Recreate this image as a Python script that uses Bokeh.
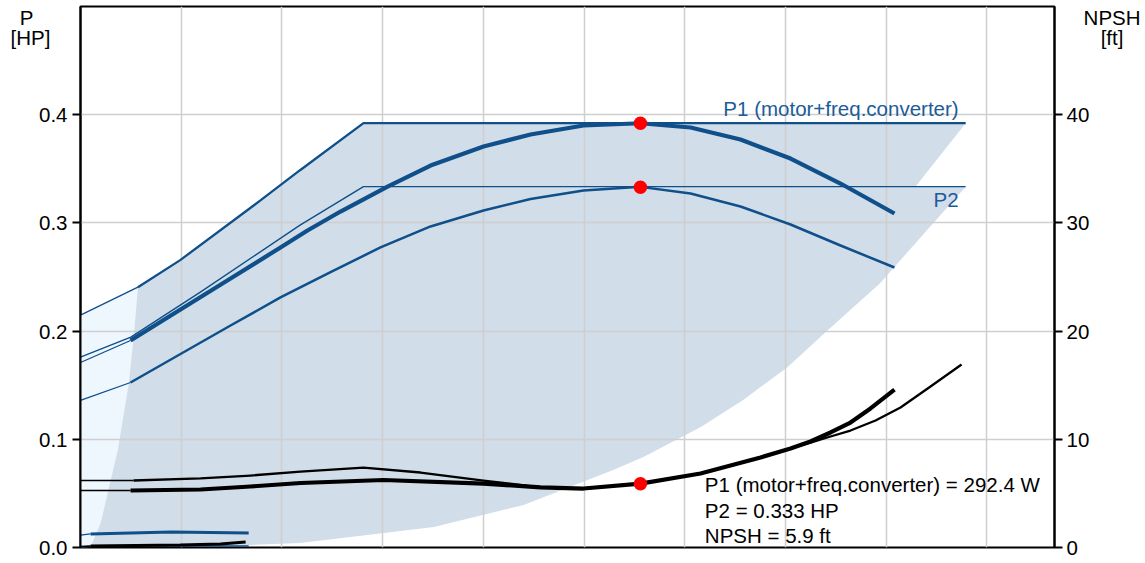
from bokeh.plotting import figure
from bokeh.models import (Range1d, LinearAxis, FixedTicker, Label, NumeralTickFormatter,
                          AllLabels)
from bokeh.embed import file_html
from bokeh.resources import INLINE

# ---------------- data ----------------
# flow axis has no labels in the reference: flow is expressed in grid units
flow_grid = [1, 2, 3, 4, 5, 6, 7, 8, 9]
p_ticks = [0.0, 0.1, 0.2, 0.3, 0.4]
p_grid = [0.1, 0.2, 0.3, 0.4]
npsh_ticks = [0, 10, 20, 30, 40]
p_title = ["P", "[HP]"]
npsh_title = ["NPSH", "[ft]"]

# light area (below minimum flow)
lowflow_q = [0, 0, 0.57, 0.53, 0.48, 0.37, 0.20, 0.10]
lowflow_p = [0, 0.2148, 0.2406, 0.1963, 0.152, 0.0901, 0.0226, 0.0005]

# operating range (union of P1 and P2 ranges)
range_q = [0.57, 0.99, 1.79, 2.18, 2.81, 8.79, 8.29, 8.79, 8.61, 8.08, 7.94, 7.42, 7.02,
           6.58, 6.16, 5.59, 5.29, 4.40, 3.51, 2.18, 1.69, 0.10, 0.20, 0.37, 0.48, 0.53]
range_p = [0.2406, 0.2656, 0.321, 0.3487, 0.3922, 0.3922, 0.3335, 0.3335, 0.3146, 0.2591,
           0.2443, 0.2009, 0.1667, 0.1363, 0.1113, 0.0836, 0.0716, 0.0393, 0.0189, 0.0042,
           0.0023, 0.0005, 0.0226, 0.0901, 0.152, 0.1963]

# P1 max envelope
p1max_q = [0, 0.57, 0.99, 1.79, 2.18, 2.81, 8.79]
p1max_p = [0.2148, 0.2406, 0.2656, 0.321, 0.3487, 0.3922, 0.3922]
# P2 max envelope
p2max_q = [0, 0.50, 1.19, 2.18, 2.81, 8.79]
p2max_p = [0.176, 0.1945, 0.236, 0.2979, 0.3335, 0.3335]

# P1 at nominal speed
p1_q = [0, 0.497, 0.993, 1.490, 1.986, 2.254, 2.582, 3.049, 3.476, 4.002, 4.469, 4.995,
        5.561, 6.058, 6.554, 7.051, 7.547, 8.083]
p1_p = [0.1710, 0.1913, 0.2200, 0.2486, 0.2773, 0.2930, 0.3105, 0.3336, 0.3530, 0.3706,
        0.3817, 0.3900, 0.3921, 0.3882, 0.3771, 0.3595, 0.3364, 0.3087]
# P2 at nominal speed
p2_q = [0, 0.497, 0.993, 1.490, 1.986, 2.483, 2.979, 3.476, 4.002, 4.469, 4.995, 5.561,
        6.058, 6.554, 7.051, 7.547, 8.083]
p2_p = [0.1359, 0.1525, 0.1788, 0.2052, 0.2311, 0.2546, 0.2773, 0.2967, 0.3115, 0.3221,
        0.3299, 0.3333, 0.3272, 0.3152, 0.2985, 0.2791, 0.2588]

# minimum speed curves
p1min_q = [0, 0.10, 0.90, 1.67]
p1min_p = [0.0115, 0.0125, 0.0143, 0.0134]
p2min_q = [0, 0.10, 0.90, 1.67]
p2min_p = [0.0012, 0.0013, 0.0016, 0.0014]
npshmin_q = [0, 0.10, 0.99, 1.39, 1.64]
npshmin_h = [0.05, 0.14, 0.23, 0.32, 0.51]

# NPSH at nominal speed
npsh_q = [0, 0.497, 1.192, 1.688, 2.185, 3.009, 4.002, 4.568, 4.995, 5.561, 6.157, 6.753,
          7.051, 7.249, 7.448, 7.646, 7.845, 8.083]
npsh_h = [5.27, 5.27, 5.36, 5.64, 5.96, 6.24, 5.91, 5.55, 5.45, 5.9, 6.84, 8.32, 9.15, 9.80,
          10.63, 11.55, 12.85, 14.60]
# NPSH envelope
npshmax_q = [0, 0.526, 1.192, 1.688, 2.185, 2.810, 3.376, 4.002, 4.568, 4.995, 5.561, 6.157,
             6.753, 7.051, 7.249, 7.448, 7.646, 7.895, 8.143, 8.441, 8.749]
npshmax_h = [6.19, 6.19, 6.38, 6.65, 7.02, 7.39, 6.93, 6.19, 5.55, 5.45, 5.9, 6.84, 8.32,
             9.15, 9.70, 10.26, 10.81, 11.74, 12.94, 14.88, 16.91]

# duty point
duty_q = 5.56
duty_p1 = 0.3921
duty_p1_w = 292.4
duty_p2 = 0.333
duty_npsh = 5.9

# ---------------- styling ----------------
BLUE = "#0f4f8a"
TXTBLUE = "#1d5c99"
DARK = "#d1dde8"
LIGHT = "#eef6fe"
FONT = "Liberation Sans"
FS = "20.5px"
NB = "\u00a0"

p = figure(width=1145, height=563, x_range=Range1d(0, 9.672), y_range=Range1d(0, 0.5),
           x_axis_location=None, y_axis_location=None, toolbar_location=None,
           output_backend="svg", min_border_left=80, min_border_right=91,
           min_border_top=6, min_border_bottom=16)
p.extra_y_ranges = {"npsh": Range1d(0, 50)}
p.outline_line_color = "black"
p.outline_line_width = 2
p.outline_line_alpha = 1

p.xgrid.ticker = FixedTicker(ticks=flow_grid, minor_ticks=[])
p.ygrid.ticker = FixedTicker(ticks=p_grid, minor_ticks=[])
for g in (p.xgrid, p.ygrid):
    g.grid_line_color = "#cfcfcf"
    g.grid_line_width = 1.5

# inner axes: axis line and tick marks only
def tick_axis(ticks, side, rng="default"):
    ax = LinearAxis(y_range_name=rng, ticker=FixedTicker(ticks=ticks, minor_ticks=[]),
                    major_label_overrides={t: "" for t in ticks})
    ax.axis_line_color = "black"
    ax.axis_line_width = 2
    ax.major_tick_line_color = "black"
    ax.major_tick_line_width = 2
    ax.major_tick_in = 0
    ax.major_tick_out = 8
    ax.major_label_standoff = 0
    ax.major_label_text_font_size = "0px"
    p.add_layout(ax, side)

# outer axes: tick labels plus the two-line axis titles
def label_axis(ticks, fmt, titles, side, standoff, rng="default"):
    ticker_vals = list(ticks) + [t for t, _ in titles]
    ax = LinearAxis(y_range_name=rng, ticker=FixedTicker(ticks=ticker_vals, minor_ticks=[]),
                    formatter=NumeralTickFormatter(format=fmt),
                    major_label_overrides={t: s for t, s in titles},
                    major_label_policy=AllLabels())
    ax.axis_line_color = None
    ax.major_tick_line_color = None
    ax.major_tick_in = 0
    ax.major_tick_out = 0
    ax.major_label_standoff = standoff
    ax.major_label_text_font = FONT
    ax.major_label_text_font_size = FS
    ax.major_label_text_color = "black"
    p.add_layout(ax, side)

tick_axis(p_ticks, "left")
label_axis(p_ticks, "0.0", [(0.49, p_title[0] + NB * 6), (0.471, p_title[1] + NB * 3)],
           "left", 5)
tick_axis(npsh_ticks, "right", "npsh")
label_axis(npsh_ticks, "0", [(49, NB * 3 + npsh_title[0]), (47.1, NB * 6 + npsh_title[1])],
           "right", 4, "npsh")

# areas
p.patch(lowflow_q, lowflow_p, fill_color=LIGHT, line_color=None, level="image")
p.patch(range_q, range_p, fill_color=DARK, line_color=None, level="image")

# power curves
p.line(p1max_q[:2], p1max_p[:2], line_color=BLUE, line_width=1.3)
p.line(p1max_q[1:], p1max_p[1:], line_color=BLUE, line_width=2.3)
p.line(p2max_q, p2max_p, line_color=BLUE, line_width=1.4)
p.line(p1_q[:2], p1_p[:2], line_color=BLUE, line_width=1.3)
p.line(p1_q[1:], p1_p[1:], line_color=BLUE, line_width=4.2, line_join="round")
p.line(p2_q[:2], p2_p[:2], line_color=BLUE, line_width=1.3)
p.line(p2_q[1:], p2_p[1:], line_color=BLUE, line_width=2.5, line_join="round")
p.line(p1min_q[:2], p1min_p[:2], line_color=BLUE, line_width=1.3)
p.line(p1min_q[1:], p1min_p[1:], line_color=BLUE, line_width=3)
p.line(p2min_q, p2min_p, line_color=BLUE, line_width=1.3)

# NPSH curves
p.line(npshmax_q[:2], npshmax_h[:2], line_color="black", line_width=1.3, y_range_name="npsh")
p.line(npshmax_q[1:], npshmax_h[1:], line_color="black", line_width=2.3, y_range_name="npsh",
       line_join="round")
p.line(npsh_q[:2], npsh_h[:2], line_color="black", line_width=1.3, y_range_name="npsh")
p.line(npsh_q[1:], npsh_h[1:], line_color="black", line_width=4.2, y_range_name="npsh",
       line_join="round")
p.line(npshmin_q[:2], npshmin_h[:2], line_color="black", line_width=1.3, y_range_name="npsh")
p.line(npshmin_q[1:], npshmin_h[1:], line_color="black", line_width=3, y_range_name="npsh")

# duty points
p.scatter([duty_q, duty_q], [duty_p1, duty_p2], size=13.5, color="#ff0000", line_color=None)
p.scatter([duty_q], [duty_npsh], size=13.5, color="#ff0000", line_color=None,
          y_range_name="npsh")

def lab(x, y, text, align="left", color="black"):
    p.add_layout(Label(x=x, y=y, text=text, text_align=align, text_baseline="middle",
                       text_font=FONT, text_font_size=FS, text_color=color))

lab(8.72, 0.4061, "P1 (motor+freq.converter)", align="right", color=TXTBLUE)
lab(8.72, 0.3218, "P2", align="right", color=TXTBLUE)
lab(duty_q + 0.64, 0.0581, f"P1 (motor+freq.converter) = {duty_p1_w} W")
lab(duty_q + 0.64, 0.0346, f"P2 = {duty_p2} HP")
lab(duty_q + 0.64, 0.0109, f"NPSH = {duty_npsh} ft")

open("out.html", "w").write(file_html(p, INLINE))
